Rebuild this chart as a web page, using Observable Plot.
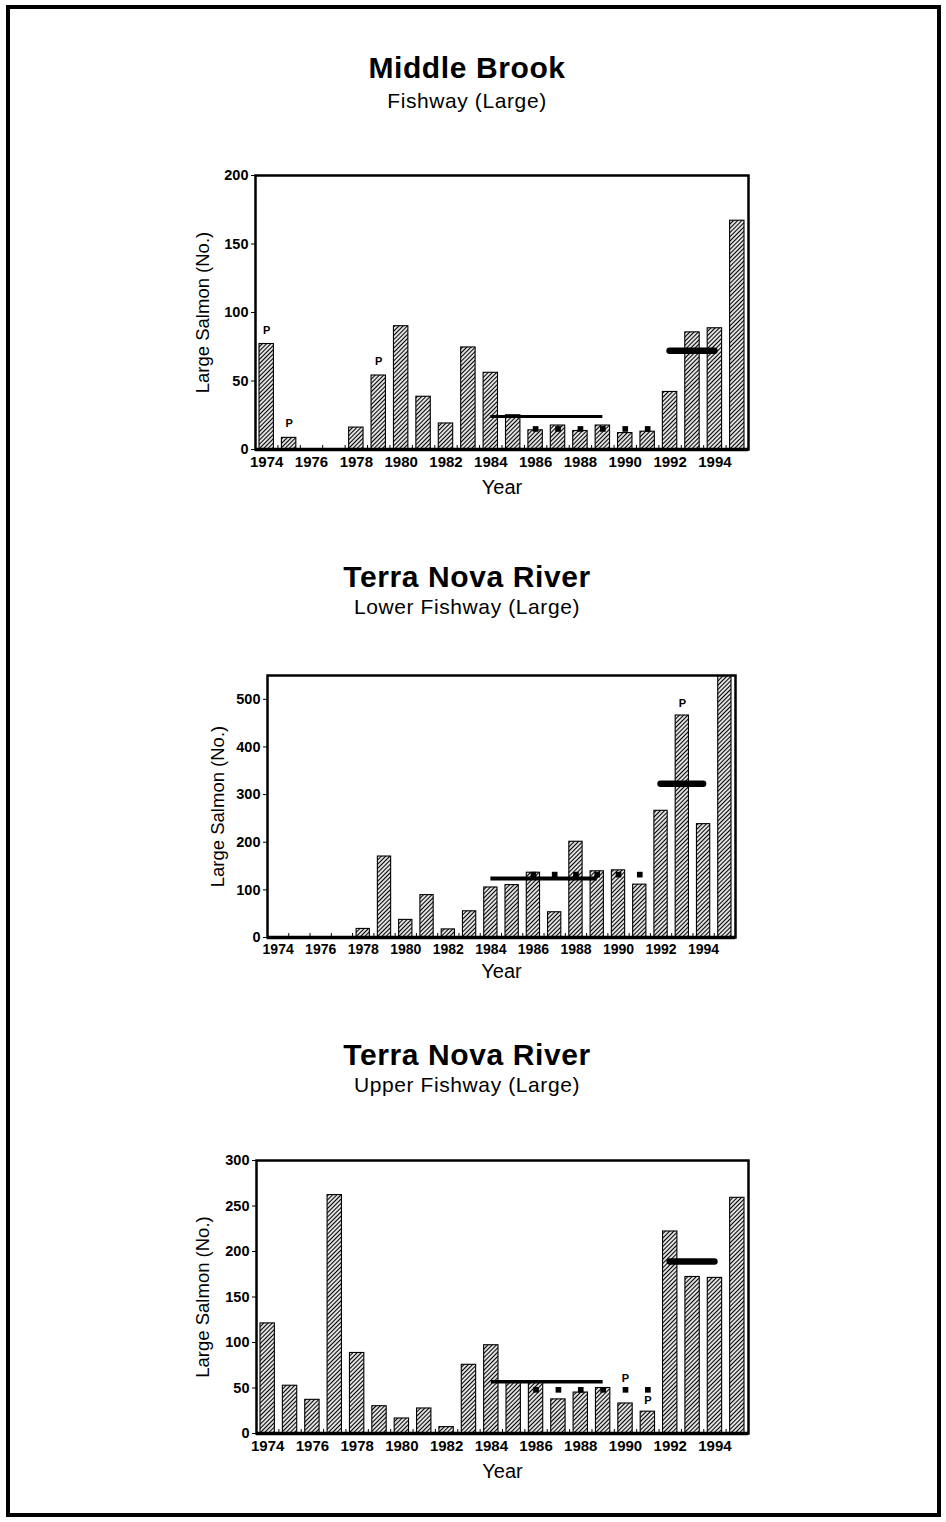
<!DOCTYPE html>
<html>
<head>
<meta charset="utf-8">
<script src="https://cdn.jsdelivr.net/npm/d3@7"></script>
<script src="https://cdn.jsdelivr.net/npm/@observablehq/plot@0.6"></script>
<style>
  html, body { margin: 0; padding: 0; background: #fff; }
  #page { position: relative; width: 946px; height: 1522px; font-family: "Liberation Sans", Arial, sans-serif; color: #000; }
  .border { position: absolute; left: 6px; top: 5px; width: 935px; height: 1512px; box-sizing: border-box; border: 4px solid #000; }
  .title { position: absolute; left: 0; width: 934px; text-align: center; font-weight: bold; font-size: 30px; line-height: 30px; letter-spacing: 0.6px; white-space: nowrap; }
  .subtitle { position: absolute; left: 0; width: 934px; text-align: center; font-size: 21px; line-height: 21px; letter-spacing: 0.6px; white-space: nowrap; }
  .chart { position: absolute; }
</style>
</head>
<body>
<svg width="0" height="0" style="position:absolute">
  <defs>
    <pattern id="hatch" patternUnits="userSpaceOnUse" width="3" height="3" patternTransform="rotate(45)">
      <rect x="0" y="0" width="3" height="3" fill="#fff"/>
      <line x1="1.5" y1="0" x2="1.5" y2="3" stroke="#000" stroke-width="1.25"/>
    </pattern>
  </defs>
</svg>
<div id="page">
  <div class="border"></div>
</div>
<script>
// ---------- data ----------
const years = [1974,1975,1976,1977,1978,1979,1980,1981,1982,1983,1984,1985,1986,1987,1988,1989,1990,1991,1992,1993,1994,1995];
const yearTickLabels = [1974,1976,1978,1980,1982,1984,1986,1988,1990,1992,1994];
const xLabel = "Year";
const yLabel = "Large Salmon (No.)";

// Middle Brook fishway
const mbTitle = "Middle Brook";
const mbSubtitle = "Fishway (Large)";
const mbValues = [77, 8.5, 0, 0, 16, 54, 90, 38.5, 19, 74.5, 56, 25, 14, 17.5, 13.5, 17.5, 12, 13, 42, 85.5, 88.5, 167];
const mbYTicks = [0, 50, 100, 150, 200];
const mbYMax = 200;
const mbMeanSpan = [1984, 1989];
const mbMean = 24;
const mbRecentSpan = [1992, 1994];
const mbRecent = 72;
const mbMarkYears = [1986, 1987, 1988, 1989, 1990, 1991];
const mbMark = 15;
const mbPYears = [1974, 1975, 1979];
const mbPValues = [77, 8.5, 54];

// Terra Nova River lower fishway
const tlTitle = "Terra Nova River";
const tlSubtitle = "Lower Fishway (Large)";
const tlValues = [0, 0, 0, 0, 18, 170, 37, 89, 17, 55, 105, 110, 136, 53, 201, 139, 141, 111, 266, 466, 238, 550];
const tlYTicks = [0, 100, 200, 300, 400, 500];
const tlYMax = 550;
const tlMeanSpan = [1984, 1989];
const tlMean = 124;
const tlRecentSpan = [1992, 1994];
const tlRecent = 323;
const tlMarkYears = [1986, 1987, 1988, 1989, 1990, 1991];
const tlMark = 132;
const tlPYears = [1993];
const tlPValues = [466];

// Terra Nova River upper fishway
const tuTitle = "Terra Nova River";
const tuSubtitle = "Upper Fishway (Large)";
const tuValues = [121, 52.5, 37, 262, 88.5, 30, 16.5, 27.5, 7, 75.5, 97, 57, 56, 37.5, 45, 50, 33, 24, 222, 172, 171, 259];
const tuYTicks = [0, 50, 100, 150, 200, 250, 300];
const tuYMax = 300;
const tuMeanSpan = [1984, 1989];
const tuMean = 57;
const tuRecentSpan = [1992, 1994];
const tuRecent = 189;
const tuMarkYears = [1986, 1987, 1988, 1989, 1990, 1991];
const tuMark = 48;
const tuPYears = [1990, 1991];
const tuPValues = [48, 24];

// ---------- drawing ----------
const page = document.getElementById("page");

function addText(cls, text, top) {
  const d = document.createElement("div");
  d.className = cls;
  d.textContent = text;
  d.style.top = top + "px";
  page.appendChild(d);
}

function makeChart(cfg) {
  const rows = years.map((y, i) => ({year: y, v: cfg.values[i]}));
  const pRows = cfg.pYears.map((y, i) => ({year: y, v: cfg.pValues[i]}));
  const boundaries = years.slice(0, -1).map(y => y + 0.5);
  const font = "Liberation Sans, Arial, sans-serif";
  const svg = Plot.plot({
    width: cfg.width,
    height: cfg.height,
    marginLeft: cfg.ml,
    marginRight: 20,
    marginTop: 35,
    marginBottom: cfg.height - 35 - cfg.ph,
    style: {fontFamily: font, background: "transparent", overflow: "visible", color: "#000"},
    x: {type: "linear", domain: [years[0] - 0.5, years[years.length - 1] + 0.5], axis: null},
    y: {domain: [0, cfg.yMax], axis: null},
    marks: [
      Plot.rect(rows, {filter: d => d.v > 0, x1: d => d.year - 0.5, x2: d => d.year + 0.5, y1: 0, y2: "v",
        fill: "url(#hatch)", stroke: "#000", strokeWidth: 1.1, insetLeft: cfg.inset, insetRight: cfg.inset, clip: true}),
      Plot.ruleY([{y: cfg.mean, a: cfg.meanSpan[0], b: cfg.meanSpan[1]}], {y: "y", x1: "a", x2: "b", strokeWidth: cfg.meanWidth, stroke: "#000"}),
      Plot.ruleY([{y: cfg.recent, a: cfg.recentSpan[0], b: cfg.recentSpan[1]}], {y: "y", x1: "a", x2: "b", strokeWidth: 6.5, stroke: "#000", strokeLinecap: "round"}),
      Plot.dot(cfg.markYears, {x: d => d, y: cfg.mark, symbol: "square", r: 3.2, fill: "#000", stroke: null}),
      Plot.text(pRows, {x: "year", y: "v", text: () => "P", dy: cfg.pDy, fontSize: 11, fontWeight: "bold", fill: "#000"}),
      Plot.frame({strokeWidth: 2.5, stroke: "#000"}),
      Plot.ruleY([0], {strokeWidth: 3.5, stroke: "#000"}),
      Plot.axisY({ticks: cfg.yTicks, tickSize: 4, tickPadding: 3, fontSize: 14.5, fontWeight: "bold", label: null, tickFormat: d => String(d)}),
      Plot.axisX({ticks: yearTickLabels, tickSize: 0, tickPadding: 7, fontSize: cfg.xFont, fontWeight: "bold", label: null, tickFormat: d => String(d)}),
      Plot.axisX({ticks: boundaries, tickSize: -4, tickFormat: () => "", label: null, strokeWidth: 1}),
      Plot.text([yLabel], {frameAnchor: "left", dx: cfg.yLabelDx, rotate: -90, textAnchor: "middle", lineAnchor: "middle", text: d => d, fontSize: 18.5, fill: "#000"}),
      Plot.text([xLabel], {frameAnchor: "bottom", dy: cfg.xLabelDy, textAnchor: "middle", lineAnchor: "middle", text: d => d, fontSize: 20, fill: "#000"})
    ]
  });
  const holder = document.createElement("div");
  holder.className = "chart";
  holder.style.left = cfg.left + "px";
  holder.style.top = cfg.top + "px";
  holder.appendChild(svg);
  page.appendChild(holder);
}

// Titles
addText("title", mbTitle, 53);
addText("subtitle", mbSubtitle, 90);
addText("title", tlTitle, 562);
addText("subtitle", tlSubtitle, 596);
addText("title", tuTitle, 1040);
addText("subtitle", tuSubtitle, 1074);

makeChart({left: 150, top: 140, width: 618, height: 369, ml: 105, ph: 274, values: mbValues, yMax: mbYMax, yTicks: mbYTicks,
  meanSpan: mbMeanSpan, mean: mbMean, meanWidth: 3, recentSpan: mbRecentSpan, recent: mbRecent,
  markYears: mbMarkYears, mark: mbMark, pYears: mbPYears, pValues: mbPValues, pDy: -14, inset: 4, yLabelDx: -52, xLabelDy: 38, xFont: 15});

makeChart({left: 150, top: 640, width: 605, height: 357, ml: 117, ph: 262, values: tlValues, yMax: tlYMax, yTicks: tlYTicks,
  meanSpan: tlMeanSpan, mean: tlMean, meanWidth: 4, recentSpan: tlRecentSpan, recent: tlRecent,
  markYears: tlMarkYears, mark: tlMark, pYears: tlPYears, pValues: tlPValues, pDy: -12, inset: 4, yLabelDx: -49, xLabelDy: 34, xFont: 14});

makeChart({left: 150, top: 1125, width: 618, height: 368, ml: 106, ph: 273, values: tuValues, yMax: tuYMax, yTicks: tuYTicks,
  meanSpan: tuMeanSpan, mean: tuMean, meanWidth: 3.5, recentSpan: tuRecentSpan, recent: tuRecent,
  markYears: tuMarkYears, mark: tuMark, pYears: tuPYears, pValues: tuPValues, pDy: -11, inset: 4, yLabelDx: -53, xLabelDy: 38, xFont: 15});
</script>
</body>
</html>
